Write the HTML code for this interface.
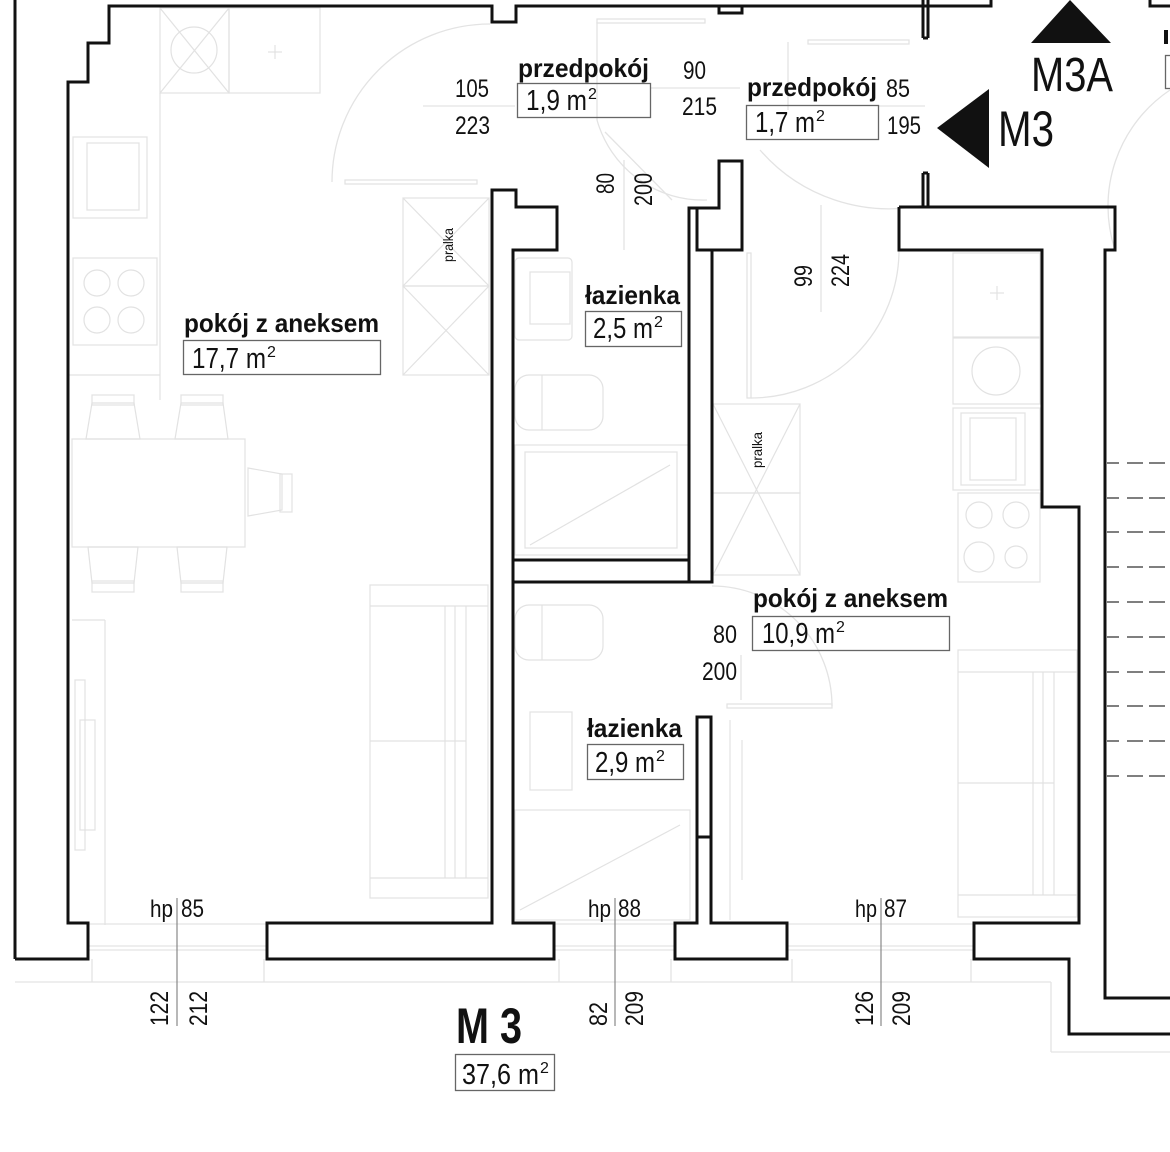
<!DOCTYPE html>
<html><head><meta charset="utf-8"><style>
html,body{margin:0;padding:0;background:#fff;}
svg{display:block;}
text{font-family:"Liberation Sans Narrow","Liberation Sans",sans-serif;fill:#111;}
.b{font-weight:bold;}
</style></head><body>
<svg width="1170" height="1152" viewBox="0 0 1170 1152" xmlns="http://www.w3.org/2000/svg">
<rect width="1170" height="1152" fill="#fff"/>

<!-- light furniture -->
<g fill="none" stroke="#e2e2e2" stroke-width="1.2">
  <!-- left kitchen -->
  <rect x="160" y="8" width="69" height="85"/>
  <circle cx="194" cy="50" r="23"/>
  <line x1="160" y1="8" x2="229" y2="93"/><line x1="229" y1="8" x2="160" y2="93"/>
  <rect x="229" y="8" width="91" height="85"/>
  <line x1="268" y1="52" x2="282" y2="52"/><line x1="275" y1="45" x2="275" y2="59"/>
  <line x1="160" y1="93" x2="160" y2="400"/>
  <rect x="73" y="137" width="74" height="81"/>
  <rect x="87" y="143" width="52" height="67"/>
  <rect x="73" y="258" width="84" height="87"/>
  <circle cx="97" cy="283" r="13"/><circle cx="131" cy="283" r="13"/>
  <circle cx="97" cy="320" r="13"/><circle cx="131" cy="320" r="13"/>
  <line x1="68" y1="375" x2="160" y2="375"/>
  <!-- left pralka -->
  <rect x="403" y="198" width="86" height="88"/>
  <rect x="403" y="286" width="86" height="89"/>
  <line x1="403" y1="198" x2="489" y2="286"/><line x1="489" y1="198" x2="403" y2="286"/>
  <line x1="403" y1="286" x2="489" y2="375"/><line x1="489" y1="286" x2="403" y2="375"/>
  <!-- table & chairs -->
  <rect x="72" y="439" width="173" height="108"/>
  <polygon points="86,439 92,403 134,403 140,439"/>
  <rect x="92" y="395" width="42" height="10"/>
  <polygon points="175,439 181,403 223,403 228,439"/>
  <rect x="181" y="395" width="42" height="10"/>
  <polygon points="88,547 92,583 134,583 138,547"/>
  <rect x="92" y="581" width="42" height="11"/>
  <polygon points="177,547 181,583 223,583 227,547"/>
  <rect x="181" y="581" width="42" height="11"/>
  <polygon points="248,468 282,474 282,510 248,516"/>
  <rect x="280" y="474" width="12" height="38"/>
  <!-- tv -->
  <line x1="72" y1="620" x2="105" y2="620"/><line x1="105" y1="620" x2="105" y2="925"/>
  <rect x="75" y="680" width="10" height="170"/>
  <rect x="80" y="720" width="15" height="110"/>
  <!-- sofa left -->
  <rect x="370" y="585" width="118" height="313"/>
  <line x1="370" y1="606" x2="488" y2="606"/>
  <line x1="370" y1="878" x2="488" y2="878"/>
  <line x1="370" y1="741" x2="466" y2="741"/>
  <line x1="445" y1="606" x2="445" y2="878"/>
  <line x1="455" y1="606" x2="455" y2="878"/>
  <line x1="466" y1="606" x2="466" y2="878"/>
  <!-- bathroom 1 -->
  <rect x="515" y="258" width="57" height="82" rx="4"/>
  <rect x="530" y="272" width="40" height="52"/>
  <rect x="515" y="375" width="88" height="55" rx="14"/>
  <line x1="542" y1="375" x2="542" y2="430"/>
  <rect x="515" y="445" width="175" height="110"/>
  <rect x="525" y="452" width="152" height="96"/>
  <line x1="530" y1="545" x2="670" y2="465"/>
  <!-- bathroom 2 -->
  <rect x="515" y="605" width="88" height="55" rx="14"/>
  <line x1="542" y1="605" x2="542" y2="660"/>
  <rect x="530" y="712" width="42" height="78"/>
  <rect x="515" y="810" width="175" height="110"/>
  <line x1="520" y1="910" x2="680" y2="825"/>
  <!-- hallway pralka -->
  <rect x="713" y="404" width="87" height="89"/>
  <rect x="713" y="493" width="87" height="82"/>
  <line x1="713" y1="404" x2="800" y2="575"/><line x1="800" y1="404" x2="713" y2="575"/>
  <!-- right kitchen -->
  <rect x="953" y="253" width="87" height="84"/>
  <line x1="990" y1="293" x2="1004" y2="293"/><line x1="997" y1="286" x2="997" y2="300"/>
  <rect x="953" y="338" width="87" height="66"/>
  <circle cx="996" cy="371" r="24"/>
  <rect x="953" y="408" width="87" height="82"/>
  <rect x="961" y="413" width="64" height="72"/>
  <rect x="970" y="418" width="46" height="62"/>
  <rect x="958" y="493" width="82" height="89"/>
  <circle cx="979" cy="515" r="13"/><circle cx="1016" cy="515" r="13"/>
  <circle cx="979" cy="557" r="15"/><circle cx="1016" cy="557" r="11"/>
  <!-- right sofa -->
  <rect x="958" y="650" width="119" height="267"/>
  <line x1="958" y1="672" x2="1077" y2="672"/>
  <line x1="958" y1="895" x2="1077" y2="895"/>
  <line x1="958" y1="783" x2="1054" y2="783"/>
  <line x1="1033" y1="672" x2="1033" y2="895"/>
  <line x1="1043" y1="672" x2="1043" y2="895"/>
  <line x1="1054" y1="672" x2="1054" y2="895"/>
  <line x1="730" y1="720" x2="730" y2="920"/>
  <line x1="742" y1="740" x2="742" y2="880"/>
</g>

<!-- door arcs / leaves -->
<g fill="none" stroke="#e3e3e3" stroke-width="1.3">
  <path d="M332,182 A158,158 0 0 1 490,24"/>
  <rect x="345" y="180" width="132" height="4"/>
  <rect x="597" y="19" width="108" height="4"/>
  <line x1="597" y1="22" x2="597" y2="120"/>
  <path d="M597,120 A110,110 0 0 0 707,200"/>
  <line x1="605" y1="132" x2="672" y2="200"/>
  <rect x="808" y="40" width="101" height="4"/>
  <line x1="788" y1="42" x2="788" y2="110"/>
  <path d="M760,150 A170,170 0 0 0 924,205"/>
  <rect x="747" y="253" width="4" height="145"/>
  <path d="M751,398 A148,148 0 0 0 899,250"/>
  <rect x="727" y="704" width="105" height="4"/>
  <path d="M832,706 A120,120 0 0 0 712,586"/>
  <path d="M1115,250 A140,140 0 0 1 1170,90"/>
  <!-- dimension separators -->
  <line x1="423" y1="106" x2="515" y2="106"/>
  <line x1="650" y1="88" x2="740" y2="88"/>
  <line x1="878" y1="106" x2="925" y2="106"/>
  <line x1="624" y1="160" x2="624" y2="250"/>
  <line x1="821" y1="205" x2="821" y2="312"/>
  <line x1="741" y1="655" x2="741" y2="700"/>
  <!-- bottom windows -->
  <line x1="88" y1="924" x2="267" y2="924"/>
  <line x1="88" y1="946" x2="267" y2="946"/>
  <line x1="88" y1="950" x2="267" y2="950"/>
  <line x1="554" y1="924" x2="675" y2="924"/>
  <line x1="554" y1="946" x2="675" y2="946"/>
  <line x1="554" y1="950" x2="675" y2="950"/>
  <line x1="787" y1="924" x2="974" y2="924"/>
  <line x1="787" y1="946" x2="974" y2="946"/>
  <line x1="787" y1="950" x2="974" y2="950"/>
  <line x1="15" y1="982" x2="1051" y2="982"/>
  <line x1="92" y1="959" x2="92" y2="982"/>
  <line x1="264" y1="959" x2="264" y2="982"/>
  <line x1="559" y1="959" x2="559" y2="982"/>
  <line x1="671" y1="959" x2="671" y2="982"/>
  <line x1="792" y1="959" x2="792" y2="982"/>
  <line x1="971" y1="959" x2="971" y2="982"/>
  <line x1="1051" y1="982" x2="1051" y2="1052"/>
  <line x1="1051" y1="1052" x2="1170" y2="1052"/>
</g>

<!-- walls -->
<g fill="none" stroke="#111" stroke-width="3" stroke-linejoin="miter">
  <line x1="15" y1="0" x2="15" y2="959"/>
  <polyline points="15,959 88,959 88,923 68,923 68,82 88,82 88,43 109,43 109,6 492,6 492,22 516,22 516,6 991,6 991,0"/>
  <polyline points="719,6 719,13 742,13 742,6"/>
  <line x1="923" y1="0" x2="923" y2="38"/><line x1="928" y1="0" x2="928" y2="38"/>
  <line x1="923" y1="38" x2="928" y2="38"/>
  <polyline points="1150,0 1150,6 1170,6"/>
  <polygon points="267,923 492,923 492,190 516,190 516,207 557,207 557,250 513,250 513,923 554,923 554,959 267,959"/>
  <polygon points="689,208 719,208 719,161 742,161 742,250 712,250 712,582 689,582"/>
  <polyline points="697,208 697,250 742,250"/>
  <line x1="513" y1="560" x2="689" y2="560"/>
  <line x1="513" y1="582" x2="689" y2="582"/>
  <polygon points="697,717 711,717 711,923 787,923 787,959 675,959 675,923 697,923"/>
  <line x1="697" y1="837" x2="711" y2="837"/>
  <line x1="923" y1="173" x2="923" y2="207"/><line x1="928" y1="173" x2="928" y2="207"/>
  <line x1="923" y1="173" x2="928" y2="173"/>
  <polyline points="899,207 1115,207 1115,250 1105,250 1105,998 1170,998"/>
  <polyline points="899,207 899,250 1042,250 1042,507 1079,507 1079,923 974,923 974,959 1069,959 1069,1034 1170,1034"/>
</g>

<!-- dashes right -->
<g stroke="#555" stroke-width="1.5">
  <path d="M1107,463h12M1127,463h16M1149,463h16 M1107,498h12M1127,498h16M1149,498h16 M1107,532h12M1127,532h16M1149,532h16 M1107,567h12M1127,567h16M1149,567h16 M1107,602h12M1127,602h16M1149,602h16 M1107,637h12M1127,637h16M1149,637h16 M1107,672h12M1127,672h16M1149,672h16 M1107,706h12M1127,706h16M1149,706h16 M1107,741h12M1127,741h16M1149,741h16 M1107,776h12M1127,776h16M1149,776h16"/>
</g>

<!-- triangles -->
<polygon points="1070,0 1031,43 1111,43" fill="#111"/>
<polygon points="937,128 989,89 989,168" fill="#111"/>
<rect x="1164" y="30" width="4" height="14" fill="#111"/>
<rect x="1165.5" y="55.5" width="8" height="33" fill="none" stroke="#666" stroke-width="1.3"/>

<!-- label boxes -->
<g fill="none" stroke="#666" stroke-width="1.3">
  <rect x="517.5" y="83.5" width="133" height="34"/>
  <rect x="746.5" y="105.5" width="132" height="34"/>
  <rect x="183.5" y="340.5" width="197" height="34"/>
  <rect x="585.5" y="311.5" width="96" height="35"/>
  <rect x="587.5" y="744.5" width="96" height="35"/>
  <rect x="752.5" y="616.5" width="197" height="34"/>
  <rect x="455.5" y="1054.5" width="99" height="36"/>
</g>
<g stroke="#888" stroke-width="1.2">
  <line x1="177" y1="898" x2="177" y2="1026"/>
  <line x1="615" y1="898" x2="615" y2="1026"/>
  <line x1="881" y1="898" x2="881" y2="1026"/>
</g>

<!-- texts -->
<text class="b" x="518" y="77" font-size="26" textLength="131" lengthAdjust="spacingAndGlyphs">przedpokój</text>
<text x="526" y="110" font-size="29" textLength="61" lengthAdjust="spacingAndGlyphs">1,9 m</text>
<text x="588" y="99" font-size="16">2</text>
<text x="455" y="97" font-size="25" textLength="34" lengthAdjust="spacingAndGlyphs">105</text>
<text x="455" y="134" font-size="25" textLength="35" lengthAdjust="spacingAndGlyphs">223</text>
<text x="683" y="79" font-size="25" textLength="23" lengthAdjust="spacingAndGlyphs">90</text>
<text x="682" y="115" font-size="25" textLength="35" lengthAdjust="spacingAndGlyphs">215</text>
<text class="b" x="747" y="96" font-size="26" textLength="130" lengthAdjust="spacingAndGlyphs">przedpokój</text>
<text x="886" y="97" font-size="25" textLength="24" lengthAdjust="spacingAndGlyphs">85</text>
<text x="755" y="132" font-size="29" textLength="60" lengthAdjust="spacingAndGlyphs">1,7 m</text>
<text x="816" y="121" font-size="16">2</text>
<text x="887" y="134" font-size="25" textLength="34" lengthAdjust="spacingAndGlyphs">195</text>
<text x="1031" y="91" font-size="48" textLength="82" lengthAdjust="spacingAndGlyphs">M3A</text>
<text x="998" y="146" font-size="50" textLength="56" lengthAdjust="spacingAndGlyphs">M3</text>

<text transform="translate(614,194) rotate(-90)" font-size="25" textLength="21" lengthAdjust="spacingAndGlyphs">80</text>
<text transform="translate(652,206) rotate(-90)" font-size="25" textLength="33" lengthAdjust="spacingAndGlyphs">200</text>
<text transform="translate(812,287) rotate(-90)" font-size="25" textLength="22" lengthAdjust="spacingAndGlyphs">99</text>
<text transform="translate(849,287) rotate(-90)" font-size="25" textLength="33" lengthAdjust="spacingAndGlyphs">224</text>

<text class="b" x="184" y="332" font-size="26" textLength="195" lengthAdjust="spacingAndGlyphs">pokój z aneksem</text>
<text x="192" y="368" font-size="29" textLength="74" lengthAdjust="spacingAndGlyphs">17,7 m</text>
<text x="267" y="357" font-size="16">2</text>

<text class="b" x="585" y="304" font-size="26" textLength="95" lengthAdjust="spacingAndGlyphs">łazienka</text>
<text x="593" y="338" font-size="29" textLength="60" lengthAdjust="spacingAndGlyphs">2,5 m</text>
<text x="654" y="327" font-size="16">2</text>
<text class="b" x="587" y="737" font-size="26" textLength="95" lengthAdjust="spacingAndGlyphs">łazienka</text>
<text x="595" y="772" font-size="29" textLength="60" lengthAdjust="spacingAndGlyphs">2,9 m</text>
<text x="656" y="761" font-size="16">2</text>

<text class="b" x="753" y="607" font-size="26" textLength="195" lengthAdjust="spacingAndGlyphs">pokój z aneksem</text>
<text x="762" y="643" font-size="29" textLength="73" lengthAdjust="spacingAndGlyphs">10,9 m</text>
<text x="836" y="632" font-size="16">2</text>
<text x="713" y="643" font-size="25" textLength="24" lengthAdjust="spacingAndGlyphs">80</text>
<text x="702" y="680" font-size="25" textLength="35" lengthAdjust="spacingAndGlyphs">200</text>

<text transform="translate(453,262) rotate(-90)" font-size="14" fill="#444" textLength="34" lengthAdjust="spacingAndGlyphs">pralka</text>
<text transform="translate(762,468) rotate(-90)" font-size="14" fill="#444" textLength="36" lengthAdjust="spacingAndGlyphs">pralka</text>

<text x="150" y="917" font-size="24" textLength="23" lengthAdjust="spacingAndGlyphs">hp</text>
<text x="181" y="917" font-size="25" textLength="23" lengthAdjust="spacingAndGlyphs">85</text>
<text transform="translate(168,1026) rotate(-90)" font-size="25" textLength="35" lengthAdjust="spacingAndGlyphs">122</text>
<text transform="translate(207,1026) rotate(-90)" font-size="25" textLength="35" lengthAdjust="spacingAndGlyphs">212</text>

<text x="588" y="917" font-size="24" textLength="23" lengthAdjust="spacingAndGlyphs">hp</text>
<text x="618" y="917" font-size="25" textLength="23" lengthAdjust="spacingAndGlyphs">88</text>
<text transform="translate(607,1026) rotate(-90)" font-size="25" textLength="24" lengthAdjust="spacingAndGlyphs">82</text>
<text transform="translate(643,1026) rotate(-90)" font-size="25" textLength="35" lengthAdjust="spacingAndGlyphs">209</text>

<text x="855" y="917" font-size="24" textLength="22" lengthAdjust="spacingAndGlyphs">hp</text>
<text x="884" y="917" font-size="25" textLength="23" lengthAdjust="spacingAndGlyphs">87</text>
<text transform="translate(873,1026) rotate(-90)" font-size="25" textLength="35" lengthAdjust="spacingAndGlyphs">126</text>
<text transform="translate(910,1026) rotate(-90)" font-size="25" textLength="35" lengthAdjust="spacingAndGlyphs">209</text>

<text class="b" x="456" y="1043" font-size="50" textLength="66" lengthAdjust="spacingAndGlyphs">M 3</text>
<text x="462" y="1084" font-size="29" textLength="77" lengthAdjust="spacingAndGlyphs">37,6 m</text>
<text x="540" y="1073" font-size="16">2</text>
</svg>
</body></html>
